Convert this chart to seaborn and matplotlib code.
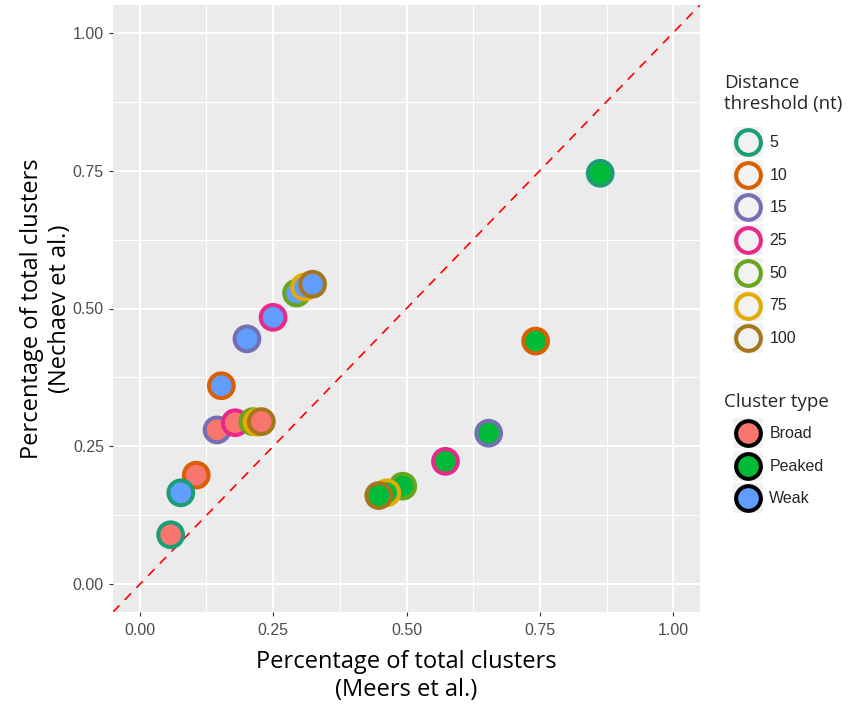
import matplotlib
matplotlib.use("Agg")
import matplotlib.pyplot as plt
from matplotlib.legend_handler import HandlerBase
from matplotlib.lines import Line2D
from matplotlib.patches import Rectangle
from matplotlib.ticker import FixedLocator
import pandas as pd
import seaborn as sns

# Cluster overlap between two studies, per distance threshold and cluster type
distances = [5, 10, 15, 25, 50, 75, 100]
cluster_types = ["Broad", "Peaked", "Weak"]

broad_meers = [0.058, 0.106, 0.145, 0.179, 0.212, 0.220, 0.228]
broad_nechaev = [0.090, 0.198, 0.280, 0.293, 0.295, 0.294, 0.295]
peaked_meers = [0.863, 0.742, 0.654, 0.573, 0.493, 0.463, 0.448]
peaked_nechaev = [0.745, 0.441, 0.274, 0.223, 0.178, 0.166, 0.161]
weak_meers = [0.077, 0.153, 0.201, 0.250, 0.294, 0.309, 0.324]
weak_nechaev = [0.166, 0.360, 0.445, 0.484, 0.528, 0.539, 0.544]

tick_values = [0.00, 0.25, 0.50, 0.75, 1.00]
tick_labels = ["0.00", "0.25", "0.50", "0.75", "1.00"]
minor_values = [0.125, 0.375, 0.625, 0.875]

edge_colors = ["#1B9E77", "#D95F02", "#7570B3", "#E7298A", "#66A61E", "#E6AB02", "#A6761D"]
fill_colors = ["#F8766D", "#00BA38", "#619CFF"]

df = pd.DataFrame({
    "meers": broad_meers + peaked_meers + weak_meers,
    "nechaev": broad_nechaev + peaked_nechaev + weak_nechaev,
    "type": [t for t in cluster_types for _ in distances],
    "distance": distances * len(cluster_types),
})
edge_map = dict(zip(distances, edge_colors))

sns.set_style("darkgrid", {
    "axes.facecolor": "#EBEBEB",
    "grid.color": "white",
    "axes.edgecolor": "none",
})
plt.rcParams["font.family"] = ["Liberation Sans", "DejaVu Sans"]

title_font = "Open Sans"
W, H = 848, 704

fig = plt.figure(figsize=(W / 100, H / 100), dpi=100)
ax = fig.add_axes([113 / W, (H - 612) / H, 587 / W, 607 / H])

ax.set_xlim(-0.05, 1.05)
ax.set_ylim(-0.05, 1.05)
ax.xaxis.set_major_locator(FixedLocator(tick_values))
ax.yaxis.set_major_locator(FixedLocator(tick_values))
ax.xaxis.set_minor_locator(FixedLocator(minor_values))
ax.yaxis.set_minor_locator(FixedLocator(minor_values))
ax.set_xticklabels(tick_labels)
ax.set_yticklabels(tick_labels)
ax.grid(which="major", color="white", linewidth=1.45)
ax.grid(which="minor", color="white", linewidth=0.75)
ax.set_axisbelow(True)
ax.tick_params(which="major", length=3, width=0.8, color="#333333",
               labelcolor="#4D4D4D", labelsize=11.5,
               bottom=True, left=True)
ax.tick_params(axis="x", which="major", pad=5)
ax.tick_params(axis="y", which="major", pad=3.5)
ax.tick_params(which="minor", length=0)

# identity reference line
ax.axline((0, 0), slope=1, color="red", linewidth=1.2,
          linestyle=(0, (5.5, 4.6)), zorder=1)

sns.scatterplot(data=df, x="meers", y="nechaev", hue="type",
                hue_order=cluster_types, palette=fill_colors,
                s=316, linewidth=2.9, legend=False, ax=ax, zorder=3)
ax.collections[-1].set_edgecolors(df["distance"].map(edge_map).tolist())

ax.set_xlabel("Percentage of total clusters\n(Meers et al.)",
              fontsize=17, family=title_font, color="black", labelpad=8.5,
              linespacing=1.22)
ax.set_ylabel("Percentage of total clusters\n(Nechaev et al.)",
              fontsize=17, family=title_font, color="black", labelpad=0.5,
              linespacing=1.22)


class KeyHandler(HandlerBase):
    """Legend key drawn as a grey square with a marker in its centre."""

    def create_artists(self, legend, orig_handle, xdescent, ydescent,
                       width, height, fontsize, trans):
        bg = Rectangle((-xdescent, -ydescent), width, height,
                       facecolor="#F2F2F2", edgecolor="none", transform=trans)
        mk = Line2D([width / 2 - xdescent], [height / 2 - ydescent],
                    marker="o", linestyle="none",
                    markersize=orig_handle.get_markersize(),
                    markerfacecolor=orig_handle.get_markerfacecolor(),
                    markeredgecolor=orig_handle.get_markeredgecolor(),
                    markeredgewidth=orig_handle.get_markeredgewidth(),
                    transform=trans)
        return [bg, mk]


dist_handles = [Line2D([], [], marker="o", linestyle="none", markersize=17.8,
                       markerfacecolor="none", markeredgecolor=c,
                       markeredgewidth=2.9) for c in edge_colors]
type_handles = [Line2D([], [], marker="o", linestyle="none", markersize=17.8,
                       markerfacecolor=c, markeredgecolor="black",
                       markeredgewidth=2.9) for c in fill_colors]

label_size = 11.5
key_pt = 30 / (100 / 72)
legend_kw = dict(frameon=False, handler_map={Line2D: KeyHandler()},
                 prop={"family": "Liberation Sans", "size": label_size},
                 handlelength=key_pt / label_size,
                 handleheight=(key_pt / label_size - 0.245) / 0.65,
                 handletextpad=0.4, labelspacing=0.17,
                 borderpad=0, borderaxespad=0)

# legend titles
fig.text(724 / W, 1 - 74 / H, "Distance\nthreshold (nt)", family=title_font,
         fontsize=13.5, va="top", ha="left", linespacing=1.18)
fig.text(724 / W, 1 - 393 / H, "Cluster type", family=title_font,
         fontsize=13.5, va="top", ha="left")

leg1 = fig.legend(dist_handles, [str(d) for d in distances],
                  loc="upper left", bbox_to_anchor=(733 / W, 1 - 127 / H),
                  **legend_kw)
leg2 = fig.legend(type_handles, cluster_types,
                  loc="upper left", bbox_to_anchor=(733 / W, 1 - 418 / H),
                  **legend_kw)

fig.savefig("out.png", dpi=100)
